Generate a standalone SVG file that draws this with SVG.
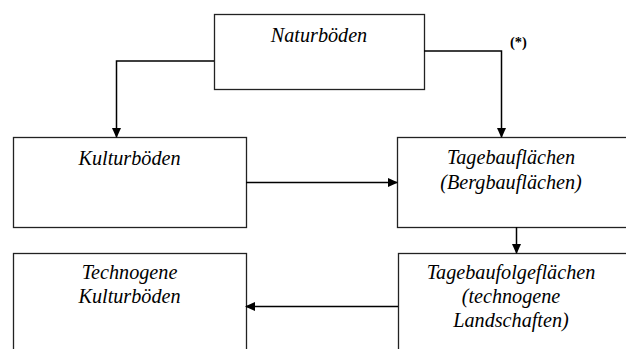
<svg xmlns="http://www.w3.org/2000/svg" width="626" height="349" viewBox="0 0 626 349">
<style>
.box{fill:#fff;stroke:#222;stroke-width:1.3}
.t{font-family:'Liberation Serif','Times New Roman','DejaVu Serif',serif;font-style:italic;font-size:20.2px;text-anchor:middle;fill:#000}
.c{fill:none;stroke:#000;stroke-width:1.5}
.s{font-family:'Liberation Serif','Times New Roman',serif;font-weight:bold;font-size:14.5px;fill:#000}
</style>
<defs>
<marker id="a" markerWidth="10" markerHeight="10" refX="9" refY="5" orient="auto" markerUnits="userSpaceOnUse">
<path d="M0,0.5 L10,5 L0,9.5 Z" fill="#000"/>
</marker>
</defs>
<rect width="626" height="349" fill="#fff"/>
<g id="naturboeden">
<rect class="box" x="214.5" y="14.5" width="210" height="75"/>
<text class="t" x="319" y="42">Naturböden</text>
</g>
<g id="kulturboeden">
<rect class="box" x="13.5" y="137.5" width="233" height="90"/>
<text class="t" x="129.5" y="165">Kulturböden</text>
</g>
<g id="tagebauflaechen">
<rect class="box" x="397.5" y="137.5" width="233" height="90"/>
<text class="t" x="511" y="164">Tagebauflächen</text>
<text class="t" x="511" y="189">(Bergbauflächen)</text>
</g>
<g id="technogene">
<rect class="box" x="13.5" y="253.5" width="233" height="110"/>
<text class="t" x="129.5" y="279">Technogene</text>
<text class="t" x="129.5" y="303">Kulturböden</text>
</g>
<g id="tagebaufolge">
<rect class="box" x="398.5" y="253.5" width="233" height="110"/>
<text class="t" x="511" y="279">Tagebaufolgeflächen</text>
<text class="t" x="511" y="303">(technogene</text>
<text class="t" x="511" y="327">Landschaften)</text>
</g>
<g id="connectors">
<path class="c" d="M214,61 H116.5 V137" marker-end="url(#a)"/>
<path class="c" d="M424,51 H501.5 V137" marker-end="url(#a)"/>
<path class="c" d="M246,182.5 H397" marker-end="url(#a)"/>
<path class="c" d="M516.5,227 V253" marker-end="url(#a)"/>
<path class="c" d="M398,306.5 H246" marker-end="url(#a)"/>
<text class="s" x="510" y="47">(*)</text>
</g>
</svg>
